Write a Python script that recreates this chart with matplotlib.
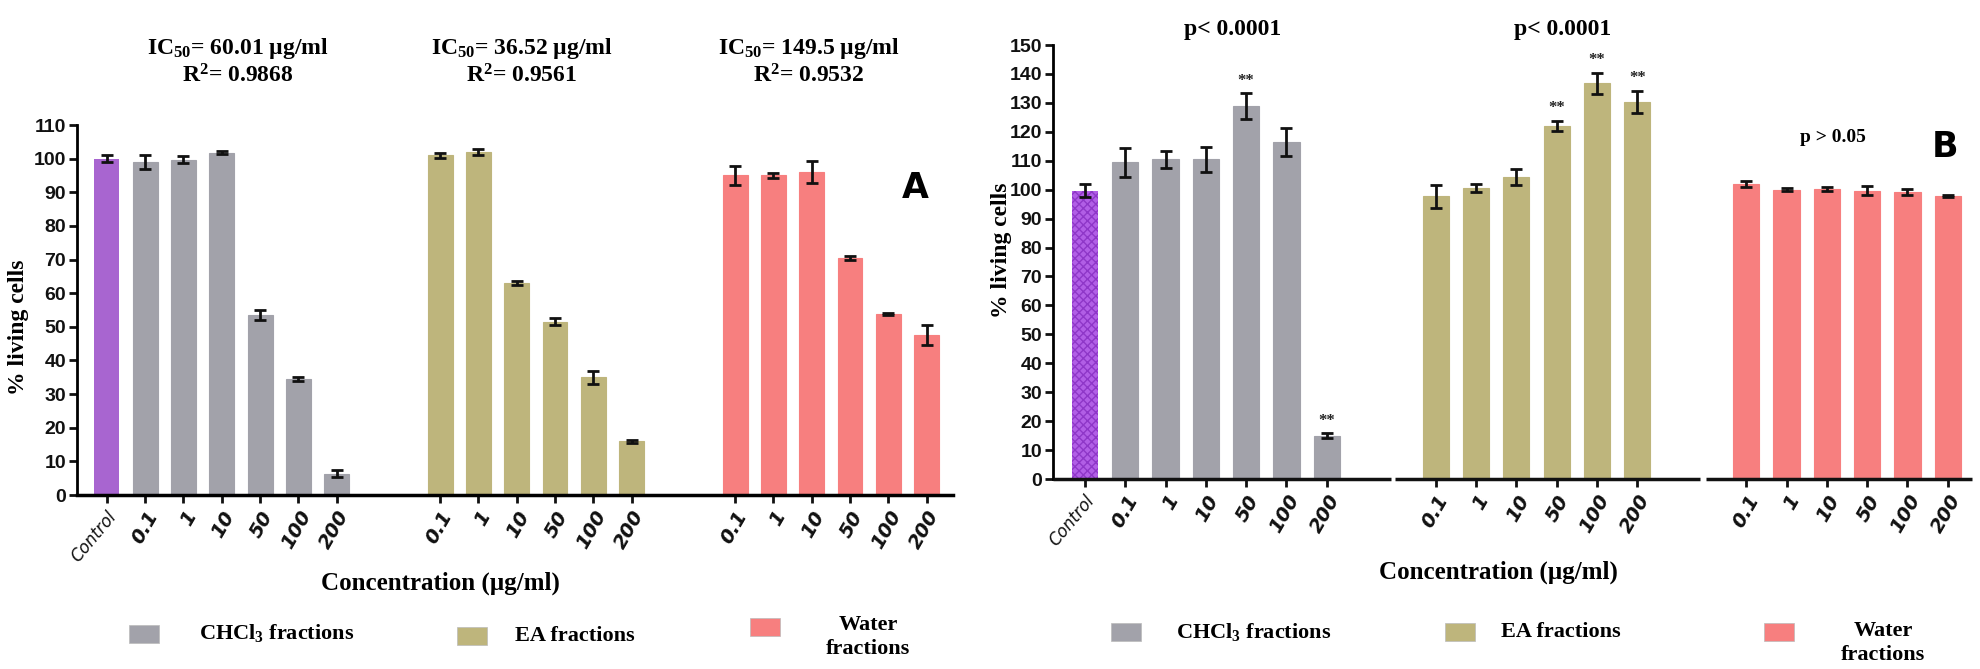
import numpy as np
import matplotlib
matplotlib.use('Agg')
import matplotlib.pyplot as plt
from matplotlib.patches import Rectangle

# concentrations (ug/ml) shown under each fraction group
conc_labels = ["0.1", "1", "10", "50", "100", "200"]
fractions = [r"CHCl$_\mathrm{3}$ fractions", "EA fractions", "Water\nfractions"]

# panel A: cytotoxicity (% living cells)
a_control, a_control_err = 100.0, 1.0
a_chcl3 = [99.0, 99.7, 101.8, 53.5, 34.5, 6.3]
a_chcl3_err = [2.0, 1.0, 0.5, 1.5, 0.5, 1.0]
a_ea = [101.0, 102.0, 63.0, 51.5, 35.0, 16.0]
a_ea_err = [0.7, 0.8, 0.5, 1.0, 2.0, 0.5]
a_water = [95.0, 95.0, 96.0, 70.5, 53.8, 47.5]
a_water_err = [2.8, 0.8, 3.2, 0.5, 0.4, 3.0]
a_headers = [r"IC$_\mathrm{50}$= 60.01 µg/ml" + "\n" + r"R$^\mathrm{2}$= 0.9868",
             r"IC$_\mathrm{50}$= 36.52 µg/ml" + "\n" + r"R$^\mathrm{2}$= 0.9561",
             r"IC$_\mathrm{50}$= 149.5 µg/ml" + "\n" + r"R$^\mathrm{2}$= 0.9532"]

# panel B: proliferation (% living cells)
b_control, b_control_err = 99.7, 2.3
b_chcl3 = [109.4, 110.5, 110.5, 128.8, 116.5, 15.0]
b_chcl3_err = [5.0, 3.0, 4.3, 4.5, 4.7, 0.8]
b_ea = [97.7, 100.6, 104.5, 122.0, 136.8, 130.3]
b_ea_err = [3.9, 1.3, 2.8, 1.8, 3.6, 3.9]
b_water = [102.0, 100.0, 100.3, 99.7, 99.3, 97.8]
b_water_err = [1.0, 0.5, 0.6, 1.7, 1.0, 0.3]
b_stars = [[3, 5], [3, 4, 5], []]   # bars marked "**" in each group
b_headers = ["p< 0.0001", "p< 0.0001", "p > 0.05"]

colors = ['#a2a2aa', '#beb57c', '#f77f7f']
purple = '#a865d0'

W, H = 1981, 669
SERIF = ['Liberation Serif', 'DejaVu Serif']
SANS = ['Liberation Sans Narrow', 'Liberation Sans', 'DejaVu Sans']

plt.rcParams['mathtext.fontset'] = 'custom'
plt.rcParams['mathtext.rm'] = 'Liberation Serif:bold'
plt.rcParams['mathtext.it'] = 'Liberation Serif:bold:italic'
plt.rcParams['mathtext.bf'] = 'Liberation Serif:bold'

fig = plt.figure(figsize=(W / 100.0, H / 100.0), dpi=100)

group_start = [1.0, 8.7, 16.4]
width = 0.65


def px(x, y):
    return x / W, 1 - y / H


def draw_panel(axis, control, control_err, groups, errs, ymax, hatched, stars):
    if hatched:
        axis.bar([0], [control], width, color='#b15ee6', edgecolor='#8e37c8',
                 hatch='xxxx', linewidth=0, zorder=2)
    else:
        axis.bar([0], [control], width, color=purple, linewidth=0, zorder=2)
    axis.errorbar([0], [control], yerr=[control_err], fmt='none', ecolor='#111111',
                  elinewidth=2, capsize=4, capthick=2, zorder=3)
    ticks = [0]
    labels = ["Control"]
    for g in range(3):
        xs = group_start[g] + np.arange(len(groups[g]))
        axis.bar(xs, groups[g], width, color=colors[g], edgecolor=colors[g], linewidth=0.8, zorder=2)
        axis.errorbar(xs, groups[g], yerr=errs[g], fmt='none', ecolor='#111111',
                      elinewidth=2, capsize=4, capthick=2, zorder=3)
        if stars:
            for i in stars[g]:
                axis.text(xs[i], groups[g][i] + errs[g][i] + 1.5, "**", ha='center', va='bottom',
                          fontsize=12, fontweight='bold', family=SERIF, color='#222222')
        ticks += list(xs)
        labels += conc_labels

    axis.set_ylim(0, ymax)
    axis.set_yticks(np.arange(0, ymax + 1, 10))
    axis.set_xticks(ticks)
    axis.set_xticklabels(labels)
    for i, lab in enumerate(axis.get_xticklabels()):
        lab.set_rotation(60)
        lab.set_ha('right')
        lab.set_rotation_mode('anchor')
        lab.set_fontstyle('italic')
        lab.set_family(['DejaVu Sans'])
        if i == 0:
            lab.set_rotation(50)
            lab.set_color('#555555')
            lab.set_fontsize(12)
        else:
            lab.set_fontweight('bold')
            lab.set_fontsize(14)
    for lab in axis.get_yticklabels():
        lab.set_fontweight('bold')
        lab.set_fontsize(14)
        lab.set_family(SANS)
    axis.spines['top'].set_visible(False)
    axis.spines['right'].set_visible(False)
    axis.spines['left'].set_linewidth(2)
    axis.spines['bottom'].set_linewidth(2.5)
    axis.tick_params(width=2, length=6, pad=2, colors='#111111')
    axis.tick_params(axis='x', pad=3)


# ---------------- panel A ----------------
axA = fig.add_axes([77 / W, 1 - 495 / H, (953 - 77) / W, (495 - 125) / H])
draw_panel(axA, a_control, a_control_err, [a_chcl3, a_ea, a_water],
           [a_chcl3_err, a_ea_err, a_water_err], 110, False, None)
axA.set_xlim(-0.78, 22.09)

for xc, txt in zip([238, 522, 809], a_headers):
    fig.text(*px(xc, 62), txt, ha='center', va='center', fontsize=17, fontweight='bold',
             family=SERIF, linespacing=1.2)
fig.text(*px(915, 188), "A", ha='center', va='center', fontsize=25, fontweight='bold',
         family=['DejaVu Sans'])
fig.text(*px(19, 327), "% living cells", rotation=90, ha='center', va='center',
         fontsize=17, fontweight='bold', family=SERIF)
fig.text(*px(440, 583), "Concentration (µg/ml)", ha='center', va='center',
         fontsize=18, fontweight='bold', family=SERIF)

# ---------------- panel B ----------------
axB = fig.add_axes([1053 / W, 1 - 479 / H, (1972 - 1053) / W, (479 - 45) / H])
draw_panel(axB, b_control, b_control_err, [b_chcl3, b_ea, b_water],
           [b_chcl3_err, b_ea_err, b_water_err], 150, True, b_stars)
axB.set_xlim(-0.79, 22.0)
# broken x axis between fraction groups
axB.spines['bottom'].set_visible(False)
for x0, x1 in [(-0.79, 7.6), (7.7, 15.25), (15.4, 22.0)]:
    axB.plot([x0, x1], [0, 0], color='#111111', lw=2.5, clip_on=False, zorder=4,
             solid_capstyle='butt')

for xc, yc, txt in zip([1233, 1563, 1833], [30, 30, 137], b_headers):
    fig.text(*px(xc, yc), txt, ha='center', va='center',
             fontsize=17 if yc < 100 else 14, fontweight='bold', family=SERIF)
fig.text(*px(1945, 147), "B", ha='center', va='center', fontsize=25, fontweight='bold',
         family=['DejaVu Sans'])
fig.text(*px(1001, 250), "% living cells", rotation=90, ha='center', va='center',
         fontsize=17, fontweight='bold', family=SERIF)
fig.text(*px(1498, 572), "Concentration (µg/ml)", ha='center', va='center',
         fontsize=18, fontweight='bold', family=SERIF)

# ---------------- legends ----------------
def legend_row(squares, texts_x):
    for g in range(3):
        sx, sy = squares[g]
        rx, ry = px(sx - 15, sy + 9)
        fig.patches.append(Rectangle((rx, ry), 30 / W, 18 / H, transform=fig.transFigure,
                                     facecolor=colors[g], edgecolor='#bbbbbb', lw=0.5))
        tx, ty, ha = texts_x[g]
        fig.text(*px(tx, ty), fractions[g], ha=ha, va='center', fontsize=16,
                 fontweight='bold', family=SERIF, linespacing=1.25)


legend_row([(144, 634), (472, 636), (765, 627)],
           [(199, 633, 'left'), (515, 636, 'left'), (868, 637, 'center')])
legend_row([(1126, 632), (1460, 632), (1779, 632)],
           [(1176, 632, 'left'), (1501, 632, 'left'), (1883, 643, 'center')])

fig.savefig("out.png", dpi=100)
